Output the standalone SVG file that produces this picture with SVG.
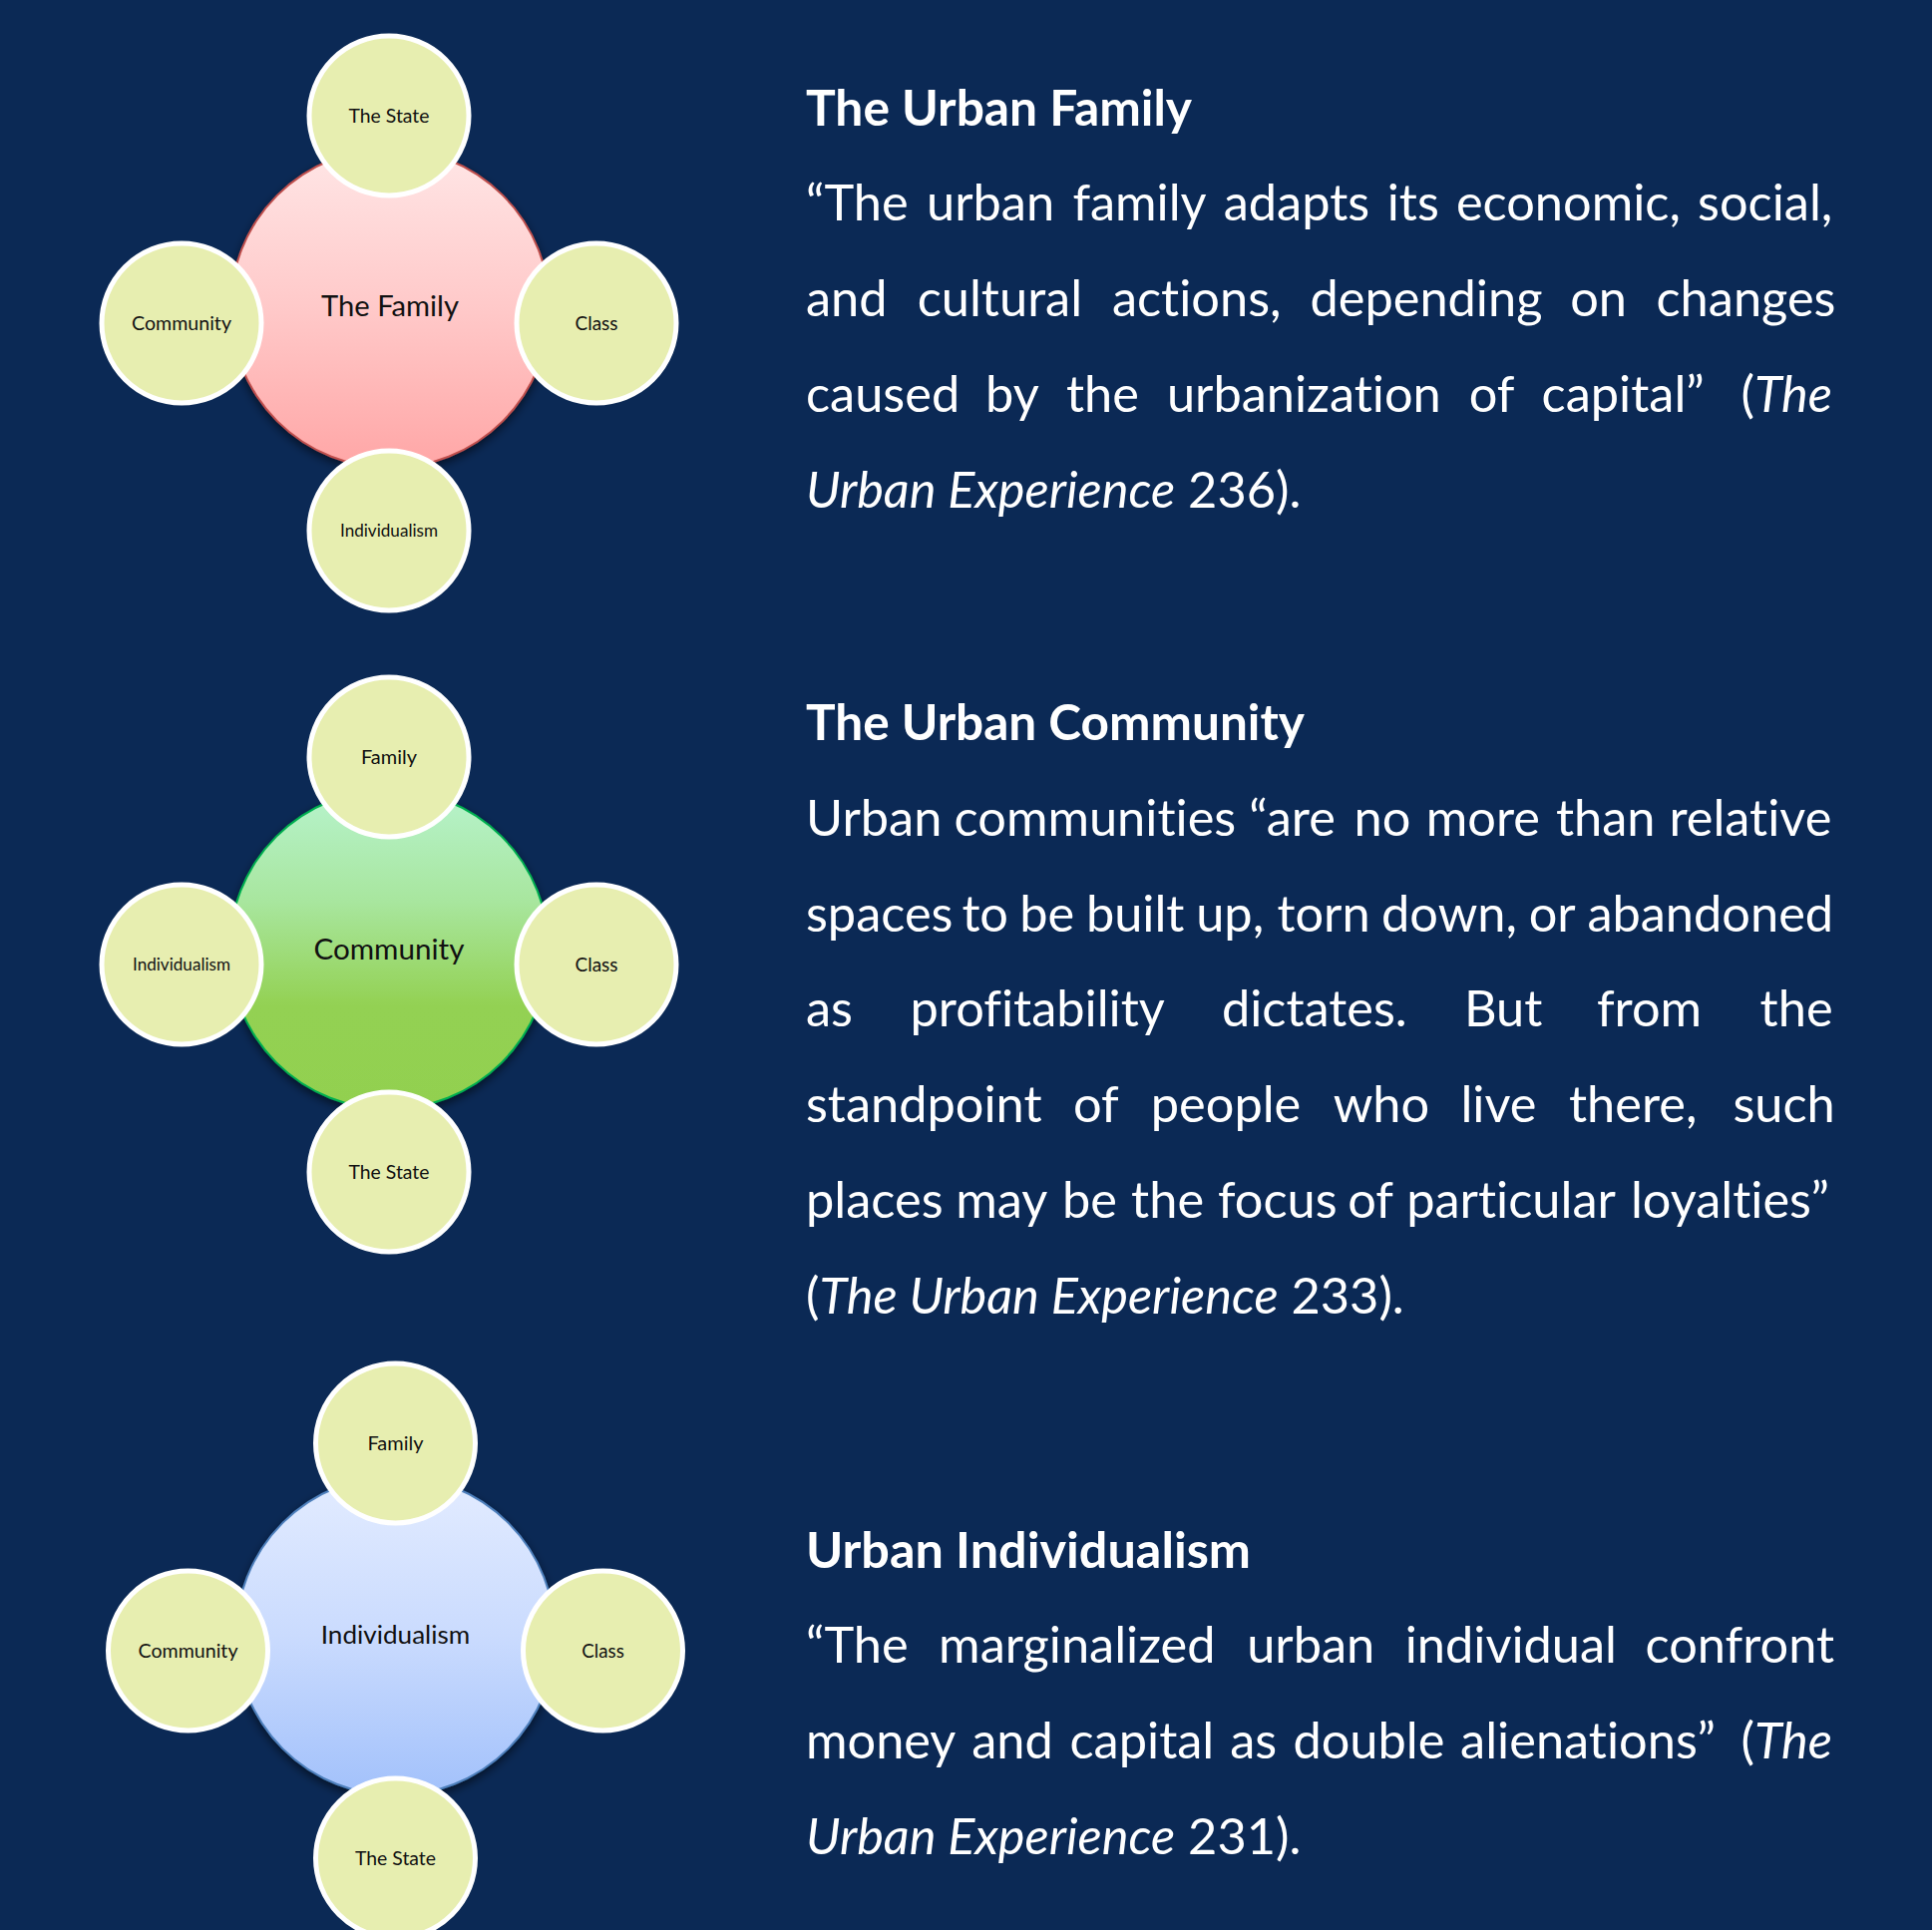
<svg xmlns="http://www.w3.org/2000/svg" width="1937" height="1935" viewBox="0 0 1937 1935">
<defs>
<style>
.sat circle{fill:#E7EEB0;stroke:#FFFFFF;stroke-width:5}
.lbl{font-family:Lato,"Liberation Sans",sans-serif;fill:#111111;text-anchor:middle}
.s{font-size:19.6px}
.si{font-size:16.7px}
.m{font-size:29.4px}
.body{font-family:Lato,"Liberation Sans",sans-serif;font-size:50.5px;fill:#FFFFFF;font-variant-ligatures:none}
.title{font-weight:bold}
.it{font-style:italic}
.end{text-anchor:end}
</style>
<linearGradient id="gFam" x1="0" y1="0" x2="0" y2="1">
<stop offset="0" stop-color="#FFE6E6"/>
<stop offset="0.5" stop-color="#FFC9C9"/>
<stop offset="1" stop-color="#FFA6A6"/>
</linearGradient>
<linearGradient id="gCom" x1="0" y1="0" x2="0" y2="1">
<stop offset="0" stop-color="#B7F3CD"/>
<stop offset="0.35" stop-color="#A8E69E"/>
<stop offset="0.68" stop-color="#93D152"/>
<stop offset="1" stop-color="#92D050"/>
</linearGradient>
<linearGradient id="gInd" x1="0" y1="0" x2="0" y2="1">
<stop offset="0" stop-color="#E3ECFF"/>
<stop offset="0.5" stop-color="#CADBFE"/>
<stop offset="1" stop-color="#A2C1FB"/>
</linearGradient>
<filter id="shadow" x="-20%" y="-20%" width="140%" height="140%">
<feDropShadow dx="0" dy="4" stdDeviation="5" flood-color="#000000" flood-opacity="0.55"/>
</filter>
</defs>
<rect width="1937" height="1935" fill="#0B2955"/>

<!-- Diagram 1: The Family -->
<g id="family-center">
<circle cx="391" cy="309" r="160" fill="url(#gFam)" stroke="#C0504D" stroke-width="2" filter="url(#shadow)"/>
<text class="lbl m" x="391" y="317" textLength="138" lengthAdjust="spacingAndGlyphs">The Family</text>
</g>
<g id="family-state" class="sat"><circle cx="390" cy="116" r="80"/><text class="lbl s" x="390" y="123" textLength="81" lengthAdjust="spacingAndGlyphs">The State</text></g>
<g id="family-community" class="sat"><circle cx="182" cy="324" r="80"/><text class="lbl s" x="182" y="331" textLength="100" lengthAdjust="spacingAndGlyphs">Community</text></g>
<g id="family-class" class="sat"><circle cx="598" cy="324" r="80"/><text class="lbl s" x="598" y="331" textLength="43" lengthAdjust="spacingAndGlyphs">Class</text></g>
<g id="family-individualism" class="sat"><circle cx="390" cy="532" r="80"/><text class="lbl si" x="390" y="538" textLength="98" lengthAdjust="spacingAndGlyphs">Individualism</text></g>

<!-- Diagram 2: Community -->
<g id="community-center">
<circle cx="390" cy="952" r="160" fill="url(#gCom)" stroke="#00B050" stroke-width="2" filter="url(#shadow)"/>
<text class="lbl m" x="390" y="962" textLength="151" lengthAdjust="spacingAndGlyphs">Community</text>
</g>
<g id="community-family" class="sat"><circle cx="390" cy="759" r="80"/><text class="lbl s" x="390" y="766" textLength="56" lengthAdjust="spacingAndGlyphs">Family</text></g>
<g id="community-individualism" class="sat"><circle cx="182" cy="967" r="80"/><text class="lbl si" x="182" y="973" textLength="98" lengthAdjust="spacingAndGlyphs">Individualism</text></g>
<g id="community-class" class="sat"><circle cx="598" cy="967" r="80"/><text class="lbl s" x="598" y="974" textLength="43" lengthAdjust="spacingAndGlyphs">Class</text></g>
<g id="community-state" class="sat"><circle cx="390" cy="1175" r="80"/><text class="lbl s" x="390" y="1182" textLength="81" lengthAdjust="spacingAndGlyphs">The State</text></g>

<!-- Diagram 3: Individualism -->
<g id="individualism-center">
<circle cx="396.5" cy="1640" r="160" fill="url(#gInd)" stroke="#4F81BD" stroke-width="2" filter="url(#shadow)"/>
<text class="lbl" style="font-size:25.5px" x="396.5" y="1648" textLength="149.5" lengthAdjust="spacingAndGlyphs">Individualism</text>
</g>
<g id="individualism-family" class="sat"><circle cx="396.5" cy="1447" r="80"/><text class="lbl s" x="396.5" y="1454" textLength="56" lengthAdjust="spacingAndGlyphs">Family</text></g>
<g id="individualism-community" class="sat"><circle cx="188.5" cy="1655" r="80"/><text class="lbl s" x="188.5" y="1662" textLength="100" lengthAdjust="spacingAndGlyphs">Community</text></g>
<g id="individualism-class" class="sat"><circle cx="604.5" cy="1655" r="80"/><text class="lbl s" x="604.5" y="1662" textLength="42.5" lengthAdjust="spacingAndGlyphs">Class</text></g>
<g id="individualism-state" class="sat"><circle cx="396.5" cy="1863" r="80"/><text class="lbl s" x="396.5" y="1870" textLength="81" lengthAdjust="spacingAndGlyphs">The State</text></g>

<g id="connectors"></g>

<!-- Text block 1 -->
<g id="text-family">
<text class="body title" x="808" y="125.5" textLength="387" lengthAdjust="spacingAndGlyphs">The Urban Family</text>
<text class="body" y="221.3"><tspan x="808">“The</tspan><tspan x="929">urban</tspan><tspan x="1075.4">family</tspan><tspan x="1226.7">adapts</tspan><tspan x="1390.7">its</tspan><tspan x="1459.9">economic,</tspan><tspan x="1702.1">social,</tspan></text>
<text class="body" y="317.1"><tspan x="808">and</tspan><tspan x="919.7">cultural</tspan><tspan x="1114.9">actions,</tspan><tspan x="1313.5">depending</tspan><tspan x="1574.2">on</tspan><tspan x="1660.5">changes</tspan></text>
<text class="body" y="412.9"><tspan x="808">caused</tspan><tspan x="988.1">by</tspan><tspan x="1068.9">the</tspan><tspan x="1169.9">urbanization</tspan><tspan x="1472.7">of</tspan><tspan x="1545.6">capital”</tspan></text>
<text class="body end" x="1837" y="412.9">(<tspan class="it">The</tspan></text>
<text class="body" x="808" y="508.7"><tspan class="it">Urban Experience</tspan> 236).</text>
</g>

<!-- Text block 2 -->
<g id="text-community">
<text class="body title" x="808" y="742.3" textLength="500" lengthAdjust="spacingAndGlyphs">The Urban Community</text>
<text class="body" y="838"><tspan x="808">Urban</tspan><tspan x="956.6">communities</tspan><tspan x="1252.3">“are</tspan><tspan x="1357.5">no</tspan><tspan x="1429.8">more</tspan><tspan x="1559.9">than</tspan><tspan x="1673.4">relative</tspan></text>
<text class="body" y="933.7"><tspan x="808">spaces</tspan><tspan x="964.4">to</tspan><tspan x="1022.3">be</tspan><tspan x="1088.9">built</tspan><tspan x="1199.2">up,</tspan><tspan x="1280.5">torn</tspan><tspan x="1385.1">down,</tspan><tspan x="1532.7">or</tspan><tspan x="1591.4">abandoned</tspan></text>
<text class="body" y="1029.4"><tspan x="808">as</tspan><tspan x="912.5">profitability</tspan><tspan x="1224.9">dictates.</tspan><tspan x="1467.9">But</tspan><tspan x="1600.9">from</tspan><tspan x="1764.6">the</tspan></text>
<text class="body" y="1125.1"><tspan x="808">standpoint</tspan><tspan x="1075.9">of</tspan><tspan x="1153.8">people</tspan><tspan x="1336.7">who</tspan><tspan x="1464.4">live</tspan><tspan x="1573">there,</tspan><tspan x="1737.4">such</tspan></text>
<text class="body" y="1220.8"><tspan x="808">places</tspan><tspan x="958.2">may</tspan><tspan x="1065">be</tspan><tspan x="1134.1">the</tspan><tspan x="1221">focus</tspan><tspan x="1351.3">of</tspan><tspan x="1410.2">particular</tspan><tspan x="1634.9">loyalties”</tspan></text>
<text class="body" x="808" y="1316.5">(<tspan class="it">The Urban Experience</tspan> 233).</text>
</g>

<!-- Text block 3 -->
<g id="text-individualism">
<text class="body title" x="808" y="1571.7" textLength="446" lengthAdjust="spacingAndGlyphs">Urban Individualism</text>
<text class="body" y="1667.4"><tspan x="808">“The</tspan><tspan x="941.1">marginalized</tspan><tspan x="1250.2">urban</tspan><tspan x="1408.7">individual</tspan><tspan x="1649.5">confront</tspan></text>
<text class="body" y="1763.1"><tspan x="808">money</tspan><tspan x="974.2">and</tspan><tspan x="1072.5">capital</tspan><tspan x="1233.2">as</tspan><tspan x="1296.4">double</tspan><tspan x="1464.1">alienations”</tspan></text>
<text class="body end" x="1837" y="1763.1">(<tspan class="it">The</tspan></text>
<text class="body" x="808" y="1858.8"><tspan class="it">Urban Experience</tspan> 231).</text>
</g>
</svg>
